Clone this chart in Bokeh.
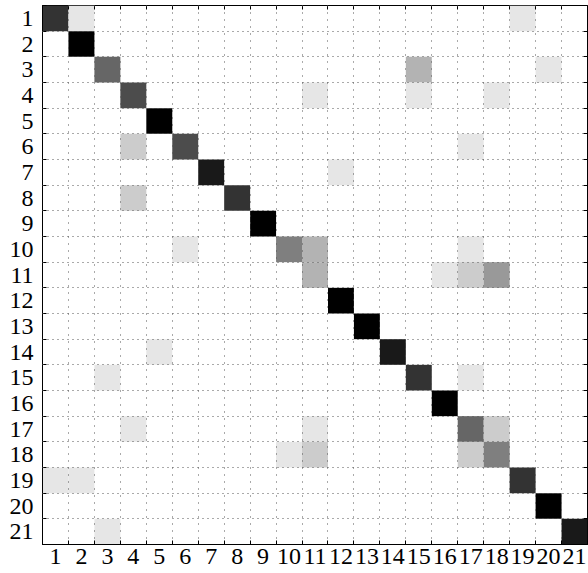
from bokeh.plotting import figure
from bokeh.models import Range1d, FixedTicker, LinearAxis, ColumnDataSource, LinearColorMapper
from bokeh.embed import file_html
from bokeh.resources import INLINE

# Confusion-matrix entries (row = true class, col = predicted class, value = fraction)
rows = [1, 1, 1,
        2,
        3, 3, 3,
        4, 4, 4, 4,
        5,
        6, 6, 6,
        7, 7,
        8, 8,
        9,
        10, 10, 10, 10,
        11, 11, 11, 11,
        12,
        13,
        14, 14,
        15, 15, 15,
        16,
        17, 17, 17, 17,
        18, 18, 18, 18,
        19, 19, 19,
        20,
        21, 21]
cols = [1, 2, 19,
        2,
        3, 15, 20,
        4, 11, 15, 18,
        5,
        4, 6, 17,
        7, 12,
        4, 8,
        9,
        6, 10, 11, 17,
        11, 16, 17, 18,
        12,
        13,
        5, 14,
        3, 15, 17,
        16,
        4, 11, 17, 18,
        10, 11, 17, 18,
        1, 2, 19,
        20,
        3, 21]
values = [0.8, 0.1, 0.1,
          1.0,
          0.6, 0.3, 0.1,
          0.7, 0.1, 0.1, 0.1,
          1.0,
          0.2, 0.7, 0.1,
          0.9, 0.1,
          0.2, 0.8,
          1.0,
          0.1, 0.5, 0.3, 0.1,
          0.3, 0.1, 0.2, 0.4,
          1.0,
          1.0,
          0.1, 0.9,
          0.1, 0.8, 0.1,
          1.0,
          0.1, 0.1, 0.6, 0.2,
          0.1, 0.2, 0.2, 0.5,
          0.1, 0.1, 0.8,
          1.0,
          0.1, 0.9]
classes = list(range(1, 22))
tick_labels = [str(c) for c in classes]

n = len(classes)
centers = classes
bounds = [c - 0.5 for c in classes] + [n + 0.5]

palette = ["#%02x%02x%02x" % (g, g, g) for g in range(255, -1, -1)]
mapper = LinearColorMapper(palette=palette, low=0.0, high=1.0)

src = ColumnDataSource(dict(row=rows, col=cols, val=values))

p = figure(width=588, height=573,
           x_range=Range1d(0.5, n + 0.5), y_range=Range1d(n + 0.5, 0.5),
           output_backend="svg", toolbar_location=None,
           min_border_left=42, min_border_right=1, min_border_top=5, min_border_bottom=29,
           x_axis_location="below", y_axis_location="left")

p.rect(x="col", y="row", width=1, height=1, source=src,
       fill_color={"field": "val", "transform": mapper}, line_color=None)

p.outline_line_color = "black"
p.outline_line_width = 1
p.background_fill_color = "white"
p.border_fill_color = "white"

FONT = "'Liberation Serif'"
for ax in (p.xaxis[0], p.yaxis[0]):
    ax.ticker = FixedTicker(ticks=centers, minor_ticks=bounds)
    ax.major_label_overrides = {c: l for c, l in zip(centers, tick_labels)}
    ax.major_tick_in = 0
    ax.major_tick_out = 0
    ax.minor_tick_in = 4
    ax.minor_tick_out = 0
    ax.minor_tick_line_color = "black"
    ax.axis_line_color = "black"
    ax.major_label_text_font = FONT
    ax.major_label_text_font_size = "24px"
    ax.major_label_text_color = "black"
p.xaxis[0].major_label_standoff = 4
p.yaxis[0].major_label_standoff = 9

for loc in ("above", "right"):
    ax = LinearAxis(ticker=FixedTicker(ticks=[], minor_ticks=bounds),
                    major_tick_in=0, major_tick_out=0,
                    minor_tick_in=4, minor_tick_out=0,
                    minor_tick_line_color="black",
                    axis_line_color=None, major_label_standoff=0,
                    major_label_text_font_size="0px")
    p.add_layout(ax, loc)

p.xgrid.ticker = FixedTicker(ticks=bounds)
p.ygrid.ticker = FixedTicker(ticks=bounds)
p.xgrid.grid_line_color = "#555555"
p.ygrid.grid_line_color = "#555555"
p.xgrid.grid_line_dash = "1 6"
p.ygrid.grid_line_dash = "1 4"
p.xgrid.grid_line_width = 1
p.ygrid.grid_line_width = 1
p.xgrid.level = "overlay"
p.ygrid.level = "overlay"

open("out.html", "w").write(file_html(p, INLINE))
